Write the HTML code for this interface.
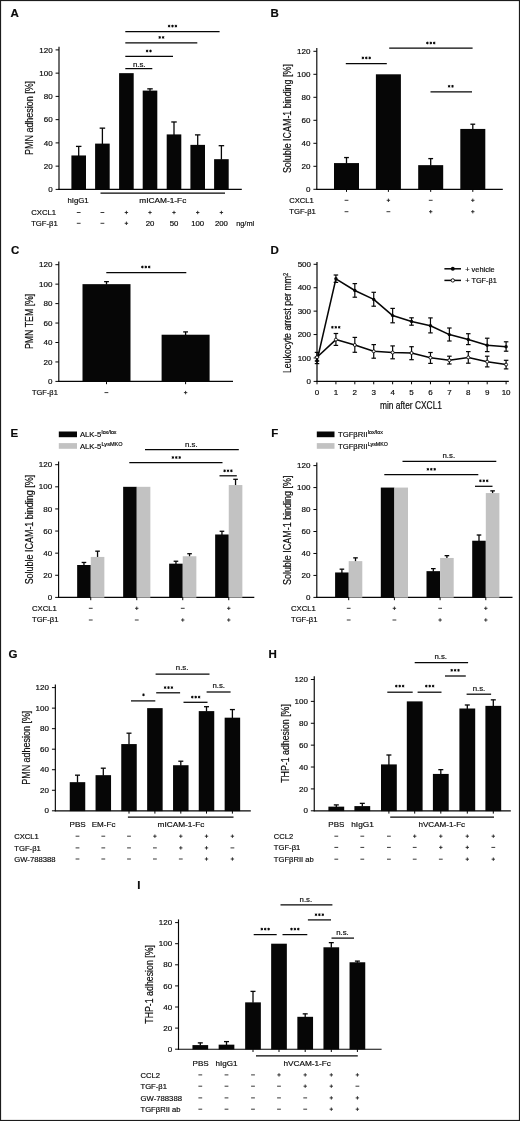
<!DOCTYPE html>
<html><head><meta charset="utf-8"><title>Figure</title>
<style>html,body{margin:0;padding:0;background:#fff}svg{display:block;will-change:transform;filter:blur(0.35px)}text{font-family:"Liberation Sans",sans-serif;fill:#0a0a0a;stroke:#0a0a0a;stroke-width:0.18px}</style>
</head><body>
<svg width="520" height="1121" viewBox="0 0 520 1121">
<rect x="0" y="0" width="520" height="1121" fill="#fff"/>
<text x="10.60" y="17.30" font-size="11.5" font-weight="bold">A</text>
<line x1="59.00" y1="46.70" x2="59.00" y2="189.95" stroke="#060606" stroke-width="1.15"/>
<line x1="55.60" y1="189.40" x2="59.00" y2="189.40" stroke="#060606" stroke-width="1.0"/>
<text x="52.60" y="192.05" font-size="8.0" text-anchor="end">0</text>
<line x1="55.60" y1="166.15" x2="59.00" y2="166.15" stroke="#060606" stroke-width="1.0"/>
<text x="52.60" y="168.80" font-size="8.0" text-anchor="end">20</text>
<line x1="55.60" y1="142.90" x2="59.00" y2="142.90" stroke="#060606" stroke-width="1.0"/>
<text x="52.60" y="145.55" font-size="8.0" text-anchor="end">40</text>
<line x1="55.60" y1="119.65" x2="59.00" y2="119.65" stroke="#060606" stroke-width="1.0"/>
<text x="52.60" y="122.30" font-size="8.0" text-anchor="end">60</text>
<line x1="55.60" y1="96.40" x2="59.00" y2="96.40" stroke="#060606" stroke-width="1.0"/>
<text x="52.60" y="99.05" font-size="8.0" text-anchor="end">80</text>
<line x1="55.60" y1="73.15" x2="59.00" y2="73.15" stroke="#060606" stroke-width="1.0"/>
<text x="52.60" y="75.80" font-size="8.0" text-anchor="end">100</text>
<line x1="55.60" y1="49.90" x2="59.00" y2="49.90" stroke="#060606" stroke-width="1.0"/>
<text x="52.60" y="52.55" font-size="8.0" text-anchor="end">120</text>
<line x1="58.45" y1="189.40" x2="241.80" y2="189.40" stroke="#060606" stroke-width="1.15"/>
<text transform="translate(32.80,117.90) rotate(-90)" font-size="10" text-anchor="middle" textLength="74.00" lengthAdjust="spacingAndGlyphs">PMN adhesion [%]</text>
<line x1="78.70" y1="146.39" x2="78.70" y2="155.96" stroke="#060606" stroke-width="1.3"/>
<line x1="75.95" y1="146.39" x2="81.45" y2="146.39" stroke="#060606" stroke-width="1.3"/>
<rect x="71.40" y="155.46" width="14.60" height="34.25" fill="#060606"/>
<line x1="102.40" y1="128.14" x2="102.40" y2="144.10" stroke="#060606" stroke-width="1.3"/>
<line x1="99.65" y1="128.14" x2="105.15" y2="128.14" stroke="#060606" stroke-width="1.3"/>
<rect x="95.10" y="143.60" width="14.60" height="46.10" fill="#060606"/>
<rect x="119.10" y="73.15" width="14.60" height="116.55" fill="#060606"/>
<line x1="150.00" y1="88.84" x2="150.00" y2="91.09" stroke="#060606" stroke-width="1.3"/>
<line x1="147.25" y1="88.84" x2="152.75" y2="88.84" stroke="#060606" stroke-width="1.3"/>
<rect x="142.70" y="90.59" width="14.60" height="99.11" fill="#060606"/>
<line x1="174.00" y1="121.97" x2="174.00" y2="134.91" stroke="#060606" stroke-width="1.3"/>
<line x1="171.25" y1="121.97" x2="176.75" y2="121.97" stroke="#060606" stroke-width="1.3"/>
<rect x="166.70" y="134.41" width="14.60" height="55.29" fill="#060606"/>
<line x1="197.70" y1="134.88" x2="197.70" y2="145.38" stroke="#060606" stroke-width="1.3"/>
<line x1="194.95" y1="134.88" x2="200.45" y2="134.88" stroke="#060606" stroke-width="1.3"/>
<rect x="190.40" y="144.88" width="14.60" height="44.82" fill="#060606"/>
<line x1="221.40" y1="145.69" x2="221.40" y2="159.68" stroke="#060606" stroke-width="1.3"/>
<line x1="218.65" y1="145.69" x2="224.15" y2="145.69" stroke="#060606" stroke-width="1.3"/>
<rect x="214.10" y="159.18" width="14.60" height="30.53" fill="#060606"/>
<line x1="125.30" y1="31.50" x2="219.60" y2="31.50" stroke="#060606" stroke-width="1.25"/>
<path d="M169.10,24.75L169.10,27.45M167.93,25.43L170.27,26.78M170.27,25.43L167.93,26.78" stroke="#060606" stroke-width="0.85" fill="none"/>
<circle cx="169.10" cy="26.10" r="0.75" fill="#060606"/>
<path d="M172.50,24.75L172.50,27.45M171.33,25.43L173.67,26.78M173.67,25.43L171.33,26.78" stroke="#060606" stroke-width="0.85" fill="none"/>
<circle cx="172.50" cy="26.10" r="0.75" fill="#060606"/>
<path d="M175.90,24.75L175.90,27.45M174.73,25.43L177.07,26.78M177.07,25.43L174.73,26.78" stroke="#060606" stroke-width="0.85" fill="none"/>
<circle cx="175.90" cy="26.10" r="0.75" fill="#060606"/>
<line x1="125.30" y1="42.80" x2="197.30" y2="42.80" stroke="#060606" stroke-width="1.25"/>
<path d="M159.70,36.05L159.70,38.75M158.53,36.73L160.87,38.07M160.87,36.73L158.53,38.07" stroke="#060606" stroke-width="0.85" fill="none"/>
<circle cx="159.70" cy="37.40" r="0.75" fill="#060606"/>
<path d="M163.10,36.05L163.10,38.75M161.93,36.73L164.27,38.07M164.27,36.73L161.93,38.07" stroke="#060606" stroke-width="0.85" fill="none"/>
<circle cx="163.10" cy="37.40" r="0.75" fill="#060606"/>
<line x1="125.30" y1="56.30" x2="173.00" y2="56.30" stroke="#060606" stroke-width="1.25"/>
<path d="M147.10,49.65L147.10,52.35M145.93,50.33L148.27,51.67M148.27,50.33L145.93,51.67" stroke="#060606" stroke-width="0.85" fill="none"/>
<circle cx="147.10" cy="51.00" r="0.75" fill="#060606"/>
<path d="M150.50,49.65L150.50,52.35M149.33,50.33L151.67,51.67M151.67,50.33L149.33,51.67" stroke="#060606" stroke-width="0.85" fill="none"/>
<circle cx="150.50" cy="51.00" r="0.75" fill="#060606"/>
<line x1="125.30" y1="68.60" x2="152.30" y2="68.60" stroke="#060606" stroke-width="1.25"/>
<text x="139.20" y="66.60" font-size="7.8" text-anchor="middle">n.s.</text>
<text x="78.00" y="203.30" font-size="7.8" text-anchor="middle">hIgG1</text>
<line x1="100.50" y1="193.20" x2="225.00" y2="193.20" stroke="#060606" stroke-width="1.25"/>
<text x="162.80" y="203.30" font-size="7.8" text-anchor="middle" textLength="47.00" lengthAdjust="spacingAndGlyphs">mICAM-1-Fc</text>
<text x="31.20" y="215.30" font-size="7.8" textLength="25.00" lengthAdjust="spacingAndGlyphs">CXCL1</text>
<text x="31.20" y="226.10" font-size="7.8" textLength="26.50" lengthAdjust="spacingAndGlyphs">TGF-β1</text>
<line x1="76.80" y1="212.50" x2="80.60" y2="212.50" stroke="#222" stroke-width="0.9"/>
<line x1="76.80" y1="223.30" x2="80.60" y2="223.30" stroke="#222" stroke-width="0.9"/>
<line x1="100.50" y1="212.50" x2="104.30" y2="212.50" stroke="#222" stroke-width="0.9"/>
<line x1="100.50" y1="223.30" x2="104.30" y2="223.30" stroke="#222" stroke-width="0.9"/>
<line x1="124.70" y1="212.50" x2="128.10" y2="212.50" stroke="#222" stroke-width="0.9"/>
<line x1="126.40" y1="210.80" x2="126.40" y2="214.20" stroke="#222" stroke-width="0.9"/>
<line x1="124.70" y1="223.30" x2="128.10" y2="223.30" stroke="#222" stroke-width="0.9"/>
<line x1="126.40" y1="221.60" x2="126.40" y2="225.00" stroke="#222" stroke-width="0.9"/>
<line x1="148.30" y1="212.50" x2="151.70" y2="212.50" stroke="#222" stroke-width="0.9"/>
<line x1="150.00" y1="210.80" x2="150.00" y2="214.20" stroke="#222" stroke-width="0.9"/>
<text x="150.00" y="226.10" font-size="7.8" text-anchor="middle">20</text>
<line x1="172.30" y1="212.50" x2="175.70" y2="212.50" stroke="#222" stroke-width="0.9"/>
<line x1="174.00" y1="210.80" x2="174.00" y2="214.20" stroke="#222" stroke-width="0.9"/>
<text x="174.00" y="226.10" font-size="7.8" text-anchor="middle">50</text>
<line x1="196.00" y1="212.50" x2="199.40" y2="212.50" stroke="#222" stroke-width="0.9"/>
<line x1="197.70" y1="210.80" x2="197.70" y2="214.20" stroke="#222" stroke-width="0.9"/>
<text x="197.70" y="226.10" font-size="7.8" text-anchor="middle">100</text>
<line x1="219.70" y1="212.50" x2="223.10" y2="212.50" stroke="#222" stroke-width="0.9"/>
<line x1="221.40" y1="210.80" x2="221.40" y2="214.20" stroke="#222" stroke-width="0.9"/>
<text x="221.40" y="226.10" font-size="7.8" text-anchor="middle">200</text>
<text x="236.20" y="226.10" font-size="7.8" textLength="18.00" lengthAdjust="spacingAndGlyphs">ng/ml</text>
<text x="270.50" y="17.30" font-size="11.5" font-weight="bold">B</text>
<line x1="316.80" y1="48.10" x2="316.80" y2="189.85" stroke="#060606" stroke-width="1.15"/>
<line x1="313.40" y1="189.30" x2="316.80" y2="189.30" stroke="#060606" stroke-width="1.0"/>
<text x="310.40" y="191.95" font-size="8.0" text-anchor="end">0</text>
<line x1="313.40" y1="166.30" x2="316.80" y2="166.30" stroke="#060606" stroke-width="1.0"/>
<text x="310.40" y="168.95" font-size="8.0" text-anchor="end">20</text>
<line x1="313.40" y1="143.30" x2="316.80" y2="143.30" stroke="#060606" stroke-width="1.0"/>
<text x="310.40" y="145.95" font-size="8.0" text-anchor="end">40</text>
<line x1="313.40" y1="120.30" x2="316.80" y2="120.30" stroke="#060606" stroke-width="1.0"/>
<text x="310.40" y="122.95" font-size="8.0" text-anchor="end">60</text>
<line x1="313.40" y1="97.30" x2="316.80" y2="97.30" stroke="#060606" stroke-width="1.0"/>
<text x="310.40" y="99.95" font-size="8.0" text-anchor="end">80</text>
<line x1="313.40" y1="74.30" x2="316.80" y2="74.30" stroke="#060606" stroke-width="1.0"/>
<text x="310.40" y="76.95" font-size="8.0" text-anchor="end">100</text>
<line x1="313.40" y1="51.30" x2="316.80" y2="51.30" stroke="#060606" stroke-width="1.0"/>
<text x="310.40" y="53.95" font-size="8.0" text-anchor="end">120</text>
<line x1="316.25" y1="189.30" x2="502.80" y2="189.30" stroke="#060606" stroke-width="1.15"/>
<text transform="translate(290.90,118.60) rotate(-90)" font-size="10" text-anchor="middle" textLength="109.00" lengthAdjust="spacingAndGlyphs">Soluble ICAM-1 binding [%]</text>
<line x1="346.50" y1="157.56" x2="346.50" y2="163.58" stroke="#060606" stroke-width="1.3"/>
<line x1="344.10" y1="157.56" x2="348.90" y2="157.56" stroke="#060606" stroke-width="1.3"/>
<rect x="334.00" y="163.08" width="25.00" height="26.52" fill="#060606"/>
<line x1="346.50" y1="189.30" x2="346.50" y2="191.90" stroke="#060606" stroke-width="1.0"/>
<rect x="375.90" y="74.30" width="25.00" height="115.30" fill="#060606"/>
<line x1="388.40" y1="189.30" x2="388.40" y2="191.90" stroke="#060606" stroke-width="1.0"/>
<line x1="430.70" y1="158.60" x2="430.70" y2="165.65" stroke="#060606" stroke-width="1.3"/>
<line x1="428.30" y1="158.60" x2="433.10" y2="158.60" stroke="#060606" stroke-width="1.3"/>
<rect x="418.20" y="165.15" width="25.00" height="24.45" fill="#060606"/>
<line x1="430.70" y1="189.30" x2="430.70" y2="191.90" stroke="#060606" stroke-width="1.0"/>
<line x1="472.80" y1="124.21" x2="472.80" y2="129.43" stroke="#060606" stroke-width="1.3"/>
<line x1="470.40" y1="124.21" x2="475.20" y2="124.21" stroke="#060606" stroke-width="1.3"/>
<rect x="460.30" y="128.93" width="25.00" height="60.68" fill="#060606"/>
<line x1="472.80" y1="189.30" x2="472.80" y2="191.90" stroke="#060606" stroke-width="1.0"/>
<line x1="345.80" y1="63.50" x2="386.80" y2="63.50" stroke="#060606" stroke-width="1.25"/>
<path d="M362.90,56.55L362.90,59.25M361.73,57.23L364.07,58.57M364.07,57.23L361.73,58.57" stroke="#060606" stroke-width="0.85" fill="none"/>
<circle cx="362.90" cy="57.90" r="0.75" fill="#060606"/>
<path d="M366.30,56.55L366.30,59.25M365.13,57.23L367.47,58.57M367.47,57.23L365.13,58.57" stroke="#060606" stroke-width="0.85" fill="none"/>
<circle cx="366.30" cy="57.90" r="0.75" fill="#060606"/>
<path d="M369.70,56.55L369.70,59.25M368.53,57.23L370.87,58.57M370.87,57.23L368.53,58.57" stroke="#060606" stroke-width="0.85" fill="none"/>
<circle cx="369.70" cy="57.90" r="0.75" fill="#060606"/>
<line x1="389.20" y1="48.20" x2="472.60" y2="48.20" stroke="#060606" stroke-width="1.25"/>
<path d="M427.40,41.65L427.40,44.35M426.23,42.33L428.57,43.67M428.57,42.33L426.23,43.67" stroke="#060606" stroke-width="0.85" fill="none"/>
<circle cx="427.40" cy="43.00" r="0.75" fill="#060606"/>
<path d="M430.80,41.65L430.80,44.35M429.63,42.33L431.97,43.67M431.97,42.33L429.63,43.67" stroke="#060606" stroke-width="0.85" fill="none"/>
<circle cx="430.80" cy="43.00" r="0.75" fill="#060606"/>
<path d="M434.20,41.65L434.20,44.35M433.03,42.33L435.37,43.67M435.37,42.33L433.03,43.67" stroke="#060606" stroke-width="0.85" fill="none"/>
<circle cx="434.20" cy="43.00" r="0.75" fill="#060606"/>
<line x1="430.50" y1="91.90" x2="472.00" y2="91.90" stroke="#060606" stroke-width="1.25"/>
<path d="M449.10,84.95L449.10,87.65M447.93,85.62L450.27,86.97M450.27,85.62L447.93,86.97" stroke="#060606" stroke-width="0.85" fill="none"/>
<circle cx="449.10" cy="86.30" r="0.75" fill="#060606"/>
<path d="M452.50,84.95L452.50,87.65M451.33,85.62L453.67,86.97M453.67,85.62L451.33,86.97" stroke="#060606" stroke-width="0.85" fill="none"/>
<circle cx="452.50" cy="86.30" r="0.75" fill="#060606"/>
<text x="289.30" y="202.70" font-size="7.8" textLength="24.50" lengthAdjust="spacingAndGlyphs">CXCL1</text>
<text x="289.30" y="214.10" font-size="7.8" textLength="26.50" lengthAdjust="spacingAndGlyphs">TGF-β1</text>
<line x1="344.60" y1="200.30" x2="348.40" y2="200.30" stroke="#222" stroke-width="0.9"/>
<line x1="344.60" y1="211.70" x2="348.40" y2="211.70" stroke="#222" stroke-width="0.9"/>
<line x1="386.70" y1="200.30" x2="390.10" y2="200.30" stroke="#222" stroke-width="0.9"/>
<line x1="388.40" y1="198.60" x2="388.40" y2="202.00" stroke="#222" stroke-width="0.9"/>
<line x1="386.50" y1="211.70" x2="390.30" y2="211.70" stroke="#222" stroke-width="0.9"/>
<line x1="428.80" y1="200.30" x2="432.60" y2="200.30" stroke="#222" stroke-width="0.9"/>
<line x1="429.00" y1="211.70" x2="432.40" y2="211.70" stroke="#222" stroke-width="0.9"/>
<line x1="430.70" y1="210.00" x2="430.70" y2="213.40" stroke="#222" stroke-width="0.9"/>
<line x1="471.10" y1="200.30" x2="474.50" y2="200.30" stroke="#222" stroke-width="0.9"/>
<line x1="472.80" y1="198.60" x2="472.80" y2="202.00" stroke="#222" stroke-width="0.9"/>
<line x1="471.10" y1="211.70" x2="474.50" y2="211.70" stroke="#222" stroke-width="0.9"/>
<line x1="472.80" y1="210.00" x2="472.80" y2="213.40" stroke="#222" stroke-width="0.9"/>
<text x="11.00" y="254.20" font-size="11.5" font-weight="bold">C</text>
<line x1="58.80" y1="261.50" x2="58.80" y2="381.95" stroke="#060606" stroke-width="1.15"/>
<line x1="55.40" y1="381.40" x2="58.80" y2="381.40" stroke="#060606" stroke-width="1.0"/>
<text x="52.40" y="384.05" font-size="8.0" text-anchor="end">0</text>
<line x1="55.40" y1="361.95" x2="58.80" y2="361.95" stroke="#060606" stroke-width="1.0"/>
<text x="52.40" y="364.60" font-size="8.0" text-anchor="end">20</text>
<line x1="55.40" y1="342.50" x2="58.80" y2="342.50" stroke="#060606" stroke-width="1.0"/>
<text x="52.40" y="345.15" font-size="8.0" text-anchor="end">40</text>
<line x1="55.40" y1="323.05" x2="58.80" y2="323.05" stroke="#060606" stroke-width="1.0"/>
<text x="52.40" y="325.70" font-size="8.0" text-anchor="end">60</text>
<line x1="55.40" y1="303.60" x2="58.80" y2="303.60" stroke="#060606" stroke-width="1.0"/>
<text x="52.40" y="306.25" font-size="8.0" text-anchor="end">80</text>
<line x1="55.40" y1="284.15" x2="58.80" y2="284.15" stroke="#060606" stroke-width="1.0"/>
<text x="52.40" y="286.80" font-size="8.0" text-anchor="end">100</text>
<line x1="55.40" y1="264.70" x2="58.80" y2="264.70" stroke="#060606" stroke-width="1.0"/>
<text x="52.40" y="267.35" font-size="8.0" text-anchor="end">120</text>
<line x1="58.25" y1="381.40" x2="233.00" y2="381.40" stroke="#060606" stroke-width="1.15"/>
<text transform="translate(32.60,321.40) rotate(-90)" font-size="10" text-anchor="middle" textLength="55.40" lengthAdjust="spacingAndGlyphs">PMN TEM [%]</text>
<line x1="106.50" y1="281.62" x2="106.50" y2="284.65" stroke="#060606" stroke-width="1.3"/>
<line x1="104.10" y1="281.62" x2="108.90" y2="281.62" stroke="#060606" stroke-width="1.3"/>
<rect x="82.50" y="284.15" width="48.00" height="97.55" fill="#060606"/>
<line x1="106.50" y1="381.40" x2="106.50" y2="384.20" stroke="#060606" stroke-width="1.0"/>
<line x1="185.60" y1="331.90" x2="185.60" y2="335.22" stroke="#060606" stroke-width="1.3"/>
<line x1="183.20" y1="331.90" x2="188.00" y2="331.90" stroke="#060606" stroke-width="1.3"/>
<rect x="161.60" y="334.72" width="48.00" height="46.98" fill="#060606"/>
<line x1="185.60" y1="381.40" x2="185.60" y2="384.20" stroke="#060606" stroke-width="1.0"/>
<line x1="106.30" y1="272.50" x2="186.30" y2="272.50" stroke="#060606" stroke-width="1.25"/>
<path d="M142.40,265.65L142.40,268.35M141.23,266.32L143.57,267.68M143.57,266.32L141.23,267.68" stroke="#060606" stroke-width="0.85" fill="none"/>
<circle cx="142.40" cy="267.00" r="0.75" fill="#060606"/>
<path d="M145.80,265.65L145.80,268.35M144.63,266.32L146.97,267.68M146.97,266.32L144.63,267.68" stroke="#060606" stroke-width="0.85" fill="none"/>
<circle cx="145.80" cy="267.00" r="0.75" fill="#060606"/>
<path d="M149.20,265.65L149.20,268.35M148.03,266.32L150.37,267.68M150.37,266.32L148.03,267.68" stroke="#060606" stroke-width="0.85" fill="none"/>
<circle cx="149.20" cy="267.00" r="0.75" fill="#060606"/>
<text x="32.00" y="395.10" font-size="7.8" textLength="25.80" lengthAdjust="spacingAndGlyphs">TGF-β1</text>
<line x1="104.50" y1="392.60" x2="108.30" y2="392.60" stroke="#222" stroke-width="0.9"/>
<line x1="183.90" y1="392.60" x2="187.30" y2="392.60" stroke="#222" stroke-width="0.9"/>
<line x1="185.60" y1="390.90" x2="185.60" y2="394.30" stroke="#222" stroke-width="0.9"/>
<text x="270.50" y="254.20" font-size="11.5" font-weight="bold">D</text>
<line x1="317.00" y1="262.10" x2="317.00" y2="381.95" stroke="#060606" stroke-width="1.2"/>
<line x1="313.60" y1="381.40" x2="317.00" y2="381.40" stroke="#060606" stroke-width="1.0"/>
<text x="311.00" y="384.05" font-size="8.0" text-anchor="end">0</text>
<line x1="313.60" y1="357.98" x2="317.00" y2="357.98" stroke="#060606" stroke-width="1.0"/>
<text x="311.00" y="360.63" font-size="8.0" text-anchor="end">100</text>
<line x1="313.60" y1="334.56" x2="317.00" y2="334.56" stroke="#060606" stroke-width="1.0"/>
<text x="311.00" y="337.21" font-size="8.0" text-anchor="end">200</text>
<line x1="313.60" y1="311.14" x2="317.00" y2="311.14" stroke="#060606" stroke-width="1.0"/>
<text x="311.00" y="313.79" font-size="8.0" text-anchor="end">300</text>
<line x1="313.60" y1="287.72" x2="317.00" y2="287.72" stroke="#060606" stroke-width="1.0"/>
<text x="311.00" y="290.37" font-size="8.0" text-anchor="end">400</text>
<line x1="313.60" y1="264.30" x2="317.00" y2="264.30" stroke="#060606" stroke-width="1.0"/>
<text x="311.00" y="266.95" font-size="8.0" text-anchor="end">500</text>
<line x1="316.45" y1="381.40" x2="508.80" y2="381.40" stroke="#060606" stroke-width="1.15"/>
<line x1="317.00" y1="381.40" x2="317.00" y2="384.30" stroke="#060606" stroke-width="1.0"/>
<text x="317.00" y="395.30" font-size="8.0" text-anchor="middle">0</text>
<line x1="335.91" y1="381.40" x2="335.91" y2="384.30" stroke="#060606" stroke-width="1.0"/>
<text x="335.91" y="395.30" font-size="8.0" text-anchor="middle">1</text>
<line x1="354.82" y1="381.40" x2="354.82" y2="384.30" stroke="#060606" stroke-width="1.0"/>
<text x="354.82" y="395.30" font-size="8.0" text-anchor="middle">2</text>
<line x1="373.73" y1="381.40" x2="373.73" y2="384.30" stroke="#060606" stroke-width="1.0"/>
<text x="373.73" y="395.30" font-size="8.0" text-anchor="middle">3</text>
<line x1="392.64" y1="381.40" x2="392.64" y2="384.30" stroke="#060606" stroke-width="1.0"/>
<text x="392.64" y="395.30" font-size="8.0" text-anchor="middle">4</text>
<line x1="411.55" y1="381.40" x2="411.55" y2="384.30" stroke="#060606" stroke-width="1.0"/>
<text x="411.55" y="395.30" font-size="8.0" text-anchor="middle">5</text>
<line x1="430.46" y1="381.40" x2="430.46" y2="384.30" stroke="#060606" stroke-width="1.0"/>
<text x="430.46" y="395.30" font-size="8.0" text-anchor="middle">6</text>
<line x1="449.37" y1="381.40" x2="449.37" y2="384.30" stroke="#060606" stroke-width="1.0"/>
<text x="449.37" y="395.30" font-size="8.0" text-anchor="middle">7</text>
<line x1="468.28" y1="381.40" x2="468.28" y2="384.30" stroke="#060606" stroke-width="1.0"/>
<text x="468.28" y="395.30" font-size="8.0" text-anchor="middle">8</text>
<line x1="487.19" y1="381.40" x2="487.19" y2="384.30" stroke="#060606" stroke-width="1.0"/>
<text x="487.19" y="395.30" font-size="8.0" text-anchor="middle">9</text>
<line x1="506.10" y1="381.40" x2="506.10" y2="384.30" stroke="#060606" stroke-width="1.0"/>
<text x="506.10" y="395.30" font-size="8.0" text-anchor="middle">10</text>
<text x="411.00" y="409.20" font-size="10.3" text-anchor="middle" textLength="62.00" lengthAdjust="spacingAndGlyphs">min after CXCL1</text>
<text transform="translate(291.0,373.1) rotate(-90)" font-size="10" text-anchor="start" textLength="100.4" lengthAdjust="spacingAndGlyphs">Leukocyte arrest per mm<tspan dy="-3.2" font-size="6.5">2</tspan></text>
<polyline points="317.00,360.80 335.91,278.80 354.82,290.50 373.73,299.40 392.64,315.60 411.55,321.40 430.46,325.70 449.37,334.60 468.28,339.50 487.19,345.30 506.10,346.80" fill="none" stroke="#060606" stroke-width="1.55" stroke-linejoin="round"/>
<line x1="317.00" y1="357.00" x2="317.00" y2="363.60" stroke="#060606" stroke-width="1.2"/>
<line x1="314.75" y1="357.00" x2="319.25" y2="357.00" stroke="#060606" stroke-width="1.2"/>
<line x1="314.75" y1="363.60" x2="319.25" y2="363.60" stroke="#060606" stroke-width="1.2"/>
<line x1="335.91" y1="275.00" x2="335.91" y2="282.40" stroke="#060606" stroke-width="1.2"/>
<line x1="333.66" y1="275.00" x2="338.16" y2="275.00" stroke="#060606" stroke-width="1.2"/>
<line x1="333.66" y1="282.40" x2="338.16" y2="282.40" stroke="#060606" stroke-width="1.2"/>
<line x1="354.82" y1="283.60" x2="354.82" y2="297.20" stroke="#060606" stroke-width="1.2"/>
<line x1="352.57" y1="283.60" x2="357.07" y2="283.60" stroke="#060606" stroke-width="1.2"/>
<line x1="352.57" y1="297.20" x2="357.07" y2="297.20" stroke="#060606" stroke-width="1.2"/>
<line x1="373.73" y1="292.30" x2="373.73" y2="306.20" stroke="#060606" stroke-width="1.2"/>
<line x1="371.48" y1="292.30" x2="375.98" y2="292.30" stroke="#060606" stroke-width="1.2"/>
<line x1="371.48" y1="306.20" x2="375.98" y2="306.20" stroke="#060606" stroke-width="1.2"/>
<line x1="392.64" y1="308.40" x2="392.64" y2="322.80" stroke="#060606" stroke-width="1.2"/>
<line x1="390.39" y1="308.40" x2="394.89" y2="308.40" stroke="#060606" stroke-width="1.2"/>
<line x1="390.39" y1="322.80" x2="394.89" y2="322.80" stroke="#060606" stroke-width="1.2"/>
<line x1="411.55" y1="317.80" x2="411.55" y2="325.20" stroke="#060606" stroke-width="1.2"/>
<line x1="409.30" y1="317.80" x2="413.80" y2="317.80" stroke="#060606" stroke-width="1.2"/>
<line x1="409.30" y1="325.20" x2="413.80" y2="325.20" stroke="#060606" stroke-width="1.2"/>
<line x1="430.46" y1="317.90" x2="430.46" y2="332.90" stroke="#060606" stroke-width="1.2"/>
<line x1="428.21" y1="317.90" x2="432.71" y2="317.90" stroke="#060606" stroke-width="1.2"/>
<line x1="428.21" y1="332.90" x2="432.71" y2="332.90" stroke="#060606" stroke-width="1.2"/>
<line x1="449.37" y1="328.00" x2="449.37" y2="341.00" stroke="#060606" stroke-width="1.2"/>
<line x1="447.12" y1="328.00" x2="451.62" y2="328.00" stroke="#060606" stroke-width="1.2"/>
<line x1="447.12" y1="341.00" x2="451.62" y2="341.00" stroke="#060606" stroke-width="1.2"/>
<line x1="468.28" y1="333.70" x2="468.28" y2="344.60" stroke="#060606" stroke-width="1.2"/>
<line x1="466.03" y1="333.70" x2="470.53" y2="333.70" stroke="#060606" stroke-width="1.2"/>
<line x1="466.03" y1="344.60" x2="470.53" y2="344.60" stroke="#060606" stroke-width="1.2"/>
<line x1="487.19" y1="338.20" x2="487.19" y2="351.60" stroke="#060606" stroke-width="1.2"/>
<line x1="484.94" y1="338.20" x2="489.44" y2="338.20" stroke="#060606" stroke-width="1.2"/>
<line x1="484.94" y1="351.60" x2="489.44" y2="351.60" stroke="#060606" stroke-width="1.2"/>
<line x1="506.10" y1="341.80" x2="506.10" y2="351.20" stroke="#060606" stroke-width="1.2"/>
<line x1="503.85" y1="341.80" x2="508.35" y2="341.80" stroke="#060606" stroke-width="1.2"/>
<line x1="503.85" y1="351.20" x2="508.35" y2="351.20" stroke="#060606" stroke-width="1.2"/>
<circle cx="317.00" cy="360.80" r="1.7" fill="#060606"/>
<circle cx="335.91" cy="278.80" r="1.7" fill="#060606"/>
<circle cx="354.82" cy="290.50" r="1.7" fill="#060606"/>
<circle cx="373.73" cy="299.40" r="1.7" fill="#060606"/>
<circle cx="392.64" cy="315.60" r="1.7" fill="#060606"/>
<circle cx="411.55" cy="321.40" r="1.7" fill="#060606"/>
<circle cx="430.46" cy="325.70" r="1.7" fill="#060606"/>
<circle cx="449.37" cy="334.60" r="1.7" fill="#060606"/>
<circle cx="468.28" cy="339.50" r="1.7" fill="#060606"/>
<circle cx="487.19" cy="345.30" r="1.7" fill="#060606"/>
<circle cx="506.10" cy="346.80" r="1.7" fill="#060606"/>
<polyline points="317.00,357.20 335.91,339.60 354.82,345.00 373.73,351.30 392.64,352.50 411.55,353.00 430.46,357.70 449.37,360.30 468.28,357.40 487.19,361.70 506.10,364.60" fill="none" stroke="#060606" stroke-width="1.55" stroke-linejoin="round"/>
<line x1="317.00" y1="352.40" x2="317.00" y2="361.00" stroke="#060606" stroke-width="1.2"/>
<line x1="314.75" y1="352.40" x2="319.25" y2="352.40" stroke="#060606" stroke-width="1.2"/>
<line x1="314.75" y1="361.00" x2="319.25" y2="361.00" stroke="#060606" stroke-width="1.2"/>
<line x1="335.91" y1="333.50" x2="335.91" y2="345.40" stroke="#060606" stroke-width="1.2"/>
<line x1="333.66" y1="333.50" x2="338.16" y2="333.50" stroke="#060606" stroke-width="1.2"/>
<line x1="333.66" y1="345.40" x2="338.16" y2="345.40" stroke="#060606" stroke-width="1.2"/>
<line x1="354.82" y1="337.40" x2="354.82" y2="352.30" stroke="#060606" stroke-width="1.2"/>
<line x1="352.57" y1="337.40" x2="357.07" y2="337.40" stroke="#060606" stroke-width="1.2"/>
<line x1="352.57" y1="352.30" x2="357.07" y2="352.30" stroke="#060606" stroke-width="1.2"/>
<line x1="373.73" y1="344.60" x2="373.73" y2="358.20" stroke="#060606" stroke-width="1.2"/>
<line x1="371.48" y1="344.60" x2="375.98" y2="344.60" stroke="#060606" stroke-width="1.2"/>
<line x1="371.48" y1="358.20" x2="375.98" y2="358.20" stroke="#060606" stroke-width="1.2"/>
<line x1="392.64" y1="345.90" x2="392.64" y2="358.80" stroke="#060606" stroke-width="1.2"/>
<line x1="390.39" y1="345.90" x2="394.89" y2="345.90" stroke="#060606" stroke-width="1.2"/>
<line x1="390.39" y1="358.80" x2="394.89" y2="358.80" stroke="#060606" stroke-width="1.2"/>
<line x1="411.55" y1="346.70" x2="411.55" y2="359.70" stroke="#060606" stroke-width="1.2"/>
<line x1="409.30" y1="346.70" x2="413.80" y2="346.70" stroke="#060606" stroke-width="1.2"/>
<line x1="409.30" y1="359.70" x2="413.80" y2="359.70" stroke="#060606" stroke-width="1.2"/>
<line x1="430.46" y1="352.50" x2="430.46" y2="363.40" stroke="#060606" stroke-width="1.2"/>
<line x1="428.21" y1="352.50" x2="432.71" y2="352.50" stroke="#060606" stroke-width="1.2"/>
<line x1="428.21" y1="363.40" x2="432.71" y2="363.40" stroke="#060606" stroke-width="1.2"/>
<line x1="449.37" y1="356.20" x2="449.37" y2="364.00" stroke="#060606" stroke-width="1.2"/>
<line x1="447.12" y1="356.20" x2="451.62" y2="356.20" stroke="#060606" stroke-width="1.2"/>
<line x1="447.12" y1="364.00" x2="451.62" y2="364.00" stroke="#060606" stroke-width="1.2"/>
<line x1="468.28" y1="351.60" x2="468.28" y2="363.20" stroke="#060606" stroke-width="1.2"/>
<line x1="466.03" y1="351.60" x2="470.53" y2="351.60" stroke="#060606" stroke-width="1.2"/>
<line x1="466.03" y1="363.20" x2="470.53" y2="363.20" stroke="#060606" stroke-width="1.2"/>
<line x1="487.19" y1="356.20" x2="487.19" y2="366.90" stroke="#060606" stroke-width="1.2"/>
<line x1="484.94" y1="356.20" x2="489.44" y2="356.20" stroke="#060606" stroke-width="1.2"/>
<line x1="484.94" y1="366.90" x2="489.44" y2="366.90" stroke="#060606" stroke-width="1.2"/>
<line x1="506.10" y1="360.30" x2="506.10" y2="368.90" stroke="#060606" stroke-width="1.2"/>
<line x1="503.85" y1="360.30" x2="508.35" y2="360.30" stroke="#060606" stroke-width="1.2"/>
<line x1="503.85" y1="368.90" x2="508.35" y2="368.90" stroke="#060606" stroke-width="1.2"/>
<circle cx="317.00" cy="357.20" r="1.5" fill="#fff" stroke="#060606" stroke-width="0.9"/>
<circle cx="335.91" cy="339.60" r="1.5" fill="#fff" stroke="#060606" stroke-width="0.9"/>
<circle cx="354.82" cy="345.00" r="1.5" fill="#fff" stroke="#060606" stroke-width="0.9"/>
<circle cx="373.73" cy="351.30" r="1.5" fill="#fff" stroke="#060606" stroke-width="0.9"/>
<circle cx="392.64" cy="352.50" r="1.5" fill="#fff" stroke="#060606" stroke-width="0.9"/>
<circle cx="411.55" cy="353.00" r="1.5" fill="#fff" stroke="#060606" stroke-width="0.9"/>
<circle cx="430.46" cy="357.70" r="1.5" fill="#fff" stroke="#060606" stroke-width="0.9"/>
<circle cx="449.37" cy="360.30" r="1.5" fill="#fff" stroke="#060606" stroke-width="0.9"/>
<circle cx="468.28" cy="357.40" r="1.5" fill="#fff" stroke="#060606" stroke-width="0.9"/>
<circle cx="487.19" cy="361.70" r="1.5" fill="#fff" stroke="#060606" stroke-width="0.9"/>
<circle cx="506.10" cy="364.60" r="1.5" fill="#fff" stroke="#060606" stroke-width="0.9"/>
<path d="M332.40,325.95L332.40,328.65M331.23,326.62L333.57,327.98M333.57,326.62L331.23,327.98" stroke="#060606" stroke-width="0.85" fill="none"/>
<circle cx="332.40" cy="327.30" r="0.75" fill="#060606"/>
<path d="M335.80,325.95L335.80,328.65M334.63,326.62L336.97,327.98M336.97,326.62L334.63,327.98" stroke="#060606" stroke-width="0.85" fill="none"/>
<circle cx="335.80" cy="327.30" r="0.75" fill="#060606"/>
<path d="M339.20,325.95L339.20,328.65M338.03,326.62L340.37,327.98M340.37,326.62L338.03,327.98" stroke="#060606" stroke-width="0.85" fill="none"/>
<circle cx="339.20" cy="327.30" r="0.75" fill="#060606"/>
<line x1="444.40" y1="268.80" x2="461.00" y2="268.80" stroke="#060606" stroke-width="1.5"/>
<circle cx="452.8" cy="268.8" r="1.95" fill="#060606"/>
<line x1="444.40" y1="280.40" x2="461.00" y2="280.40" stroke="#060606" stroke-width="1.5"/>
<circle cx="452.8" cy="280.4" r="1.7" fill="#fff" stroke="#060606" stroke-width="0.9"/>
<text x="465.20" y="271.50" font-size="7.8" textLength="29.50" lengthAdjust="spacingAndGlyphs">+ vehicle</text>
<text x="465.20" y="283.10" font-size="7.8" textLength="31.70" lengthAdjust="spacingAndGlyphs">+ TGF-β1</text>
<text x="10.60" y="437.30" font-size="11.5" font-weight="bold">E</text>
<line x1="58.60" y1="461.50" x2="58.60" y2="597.95" stroke="#060606" stroke-width="1.15"/>
<line x1="55.20" y1="597.40" x2="58.60" y2="597.40" stroke="#060606" stroke-width="1.0"/>
<text x="52.20" y="600.05" font-size="8.0" text-anchor="end">0</text>
<line x1="55.20" y1="575.28" x2="58.60" y2="575.28" stroke="#060606" stroke-width="1.0"/>
<text x="52.20" y="577.93" font-size="8.0" text-anchor="end">20</text>
<line x1="55.20" y1="553.17" x2="58.60" y2="553.17" stroke="#060606" stroke-width="1.0"/>
<text x="52.20" y="555.82" font-size="8.0" text-anchor="end">40</text>
<line x1="55.20" y1="531.05" x2="58.60" y2="531.05" stroke="#060606" stroke-width="1.0"/>
<text x="52.20" y="533.70" font-size="8.0" text-anchor="end">60</text>
<line x1="55.20" y1="508.93" x2="58.60" y2="508.93" stroke="#060606" stroke-width="1.0"/>
<text x="52.20" y="511.58" font-size="8.0" text-anchor="end">80</text>
<line x1="55.20" y1="486.82" x2="58.60" y2="486.82" stroke="#060606" stroke-width="1.0"/>
<text x="52.20" y="489.47" font-size="8.0" text-anchor="end">100</text>
<line x1="55.20" y1="464.70" x2="58.60" y2="464.70" stroke="#060606" stroke-width="1.0"/>
<text x="52.20" y="467.35" font-size="8.0" text-anchor="end">120</text>
<line x1="58.05" y1="597.40" x2="254.30" y2="597.40" stroke="#060606" stroke-width="1.15"/>
<text transform="translate(32.90,529.60) rotate(-90)" font-size="10" text-anchor="middle" textLength="109.50" lengthAdjust="spacingAndGlyphs">Soluble ICAM-1 binding [%]</text>
<rect x="58.80" y="431.50" width="18.20" height="5.70" fill="#060606"/>
<rect x="58.80" y="443.10" width="18.20" height="5.70" fill="#c2c2c2"/>
<text x="80.00" y="437.10" font-size="7.8" textLength="21.30" lengthAdjust="spacingAndGlyphs">ALK-5</text>
<text x="101.50" y="434.10" font-size="5.2" textLength="15.00" lengthAdjust="spacingAndGlyphs" stroke-width="0.05">lox/lox</text>
<text x="80.00" y="448.60" font-size="7.8" textLength="21.30" lengthAdjust="spacingAndGlyphs">ALK-5</text>
<text x="101.50" y="445.60" font-size="5.2" textLength="21.00" lengthAdjust="spacingAndGlyphs" stroke-width="0.05">LysMKO</text>
<line x1="83.95" y1="562.46" x2="83.95" y2="565.50" stroke="#060606" stroke-width="1.3"/>
<line x1="81.65" y1="562.46" x2="86.25" y2="562.46" stroke="#060606" stroke-width="1.3"/>
<line x1="97.55" y1="551.18" x2="97.55" y2="557.43" stroke="#060606" stroke-width="1.3"/>
<line x1="95.25" y1="551.18" x2="99.85" y2="551.18" stroke="#060606" stroke-width="1.3"/>
<rect x="77.15" y="565.00" width="13.60" height="32.70" fill="#060606"/>
<rect x="90.75" y="556.93" width="13.60" height="40.77" fill="#c2c2c2"/>
<line x1="90.75" y1="597.40" x2="90.75" y2="600.20" stroke="#060606" stroke-width="1.0"/>
<rect x="123.15" y="486.82" width="13.60" height="110.88" fill="#060606"/>
<rect x="136.75" y="486.82" width="13.60" height="110.88" fill="#c2c2c2"/>
<line x1="136.75" y1="597.40" x2="136.75" y2="600.20" stroke="#060606" stroke-width="1.0"/>
<line x1="175.95" y1="561.24" x2="175.95" y2="564.17" stroke="#060606" stroke-width="1.3"/>
<line x1="173.65" y1="561.24" x2="178.25" y2="561.24" stroke="#060606" stroke-width="1.3"/>
<line x1="189.55" y1="553.72" x2="189.55" y2="556.76" stroke="#060606" stroke-width="1.3"/>
<line x1="187.25" y1="553.72" x2="191.85" y2="553.72" stroke="#060606" stroke-width="1.3"/>
<rect x="169.15" y="563.67" width="13.60" height="34.03" fill="#060606"/>
<rect x="182.75" y="556.26" width="13.60" height="41.44" fill="#c2c2c2"/>
<line x1="182.75" y1="597.40" x2="182.75" y2="600.20" stroke="#060606" stroke-width="1.0"/>
<line x1="221.95" y1="531.27" x2="221.95" y2="534.98" stroke="#060606" stroke-width="1.3"/>
<line x1="219.65" y1="531.27" x2="224.25" y2="531.27" stroke="#060606" stroke-width="1.3"/>
<line x1="235.55" y1="479.30" x2="235.55" y2="485.55" stroke="#060606" stroke-width="1.3"/>
<line x1="233.25" y1="479.30" x2="237.85" y2="479.30" stroke="#060606" stroke-width="1.3"/>
<rect x="215.15" y="534.48" width="13.60" height="63.22" fill="#060606"/>
<rect x="228.75" y="485.05" width="13.60" height="112.65" fill="#c2c2c2"/>
<line x1="228.75" y1="597.40" x2="228.75" y2="600.20" stroke="#060606" stroke-width="1.0"/>
<line x1="145.00" y1="449.50" x2="238.80" y2="449.50" stroke="#060606" stroke-width="1.25"/>
<text x="191.30" y="446.65" font-size="7.8" text-anchor="middle">n.s.</text>
<line x1="129.30" y1="462.70" x2="222.50" y2="462.70" stroke="#060606" stroke-width="1.25"/>
<path d="M172.90,456.15L172.90,458.85M171.73,456.82L174.07,458.18M174.07,456.82L171.73,458.18" stroke="#060606" stroke-width="0.85" fill="none"/>
<circle cx="172.90" cy="457.50" r="0.75" fill="#060606"/>
<path d="M176.30,456.15L176.30,458.85M175.13,456.82L177.47,458.18M177.47,456.82L175.13,458.18" stroke="#060606" stroke-width="0.85" fill="none"/>
<circle cx="176.30" cy="457.50" r="0.75" fill="#060606"/>
<path d="M179.70,456.15L179.70,458.85M178.53,456.82L180.87,458.18M180.87,456.82L178.53,458.18" stroke="#060606" stroke-width="0.85" fill="none"/>
<circle cx="179.70" cy="457.50" r="0.75" fill="#060606"/>
<line x1="219.50" y1="475.80" x2="236.80" y2="475.80" stroke="#060606" stroke-width="1.25"/>
<path d="M224.60,469.45L224.60,472.15M223.43,470.12L225.77,471.48M225.77,470.12L223.43,471.48" stroke="#060606" stroke-width="0.85" fill="none"/>
<circle cx="224.60" cy="470.80" r="0.75" fill="#060606"/>
<path d="M228.00,469.45L228.00,472.15M226.83,470.12L229.17,471.48M229.17,470.12L226.83,471.48" stroke="#060606" stroke-width="0.85" fill="none"/>
<circle cx="228.00" cy="470.80" r="0.75" fill="#060606"/>
<path d="M231.40,469.45L231.40,472.15M230.23,470.12L232.57,471.48M232.57,470.12L230.23,471.48" stroke="#060606" stroke-width="0.85" fill="none"/>
<circle cx="231.40" cy="470.80" r="0.75" fill="#060606"/>
<text x="32.00" y="610.80" font-size="7.8" textLength="24.70" lengthAdjust="spacingAndGlyphs">CXCL1</text>
<text x="32.00" y="622.40" font-size="7.8" textLength="26.50" lengthAdjust="spacingAndGlyphs">TGF-β1</text>
<line x1="88.85" y1="608.30" x2="92.65" y2="608.30" stroke="#222" stroke-width="0.9"/>
<line x1="88.85" y1="620.00" x2="92.65" y2="620.00" stroke="#222" stroke-width="0.9"/>
<line x1="135.05" y1="608.30" x2="138.45" y2="608.30" stroke="#222" stroke-width="0.9"/>
<line x1="136.75" y1="606.60" x2="136.75" y2="610.00" stroke="#222" stroke-width="0.9"/>
<line x1="134.85" y1="620.00" x2="138.65" y2="620.00" stroke="#222" stroke-width="0.9"/>
<line x1="180.85" y1="608.30" x2="184.65" y2="608.30" stroke="#222" stroke-width="0.9"/>
<line x1="181.05" y1="620.00" x2="184.45" y2="620.00" stroke="#222" stroke-width="0.9"/>
<line x1="182.75" y1="618.30" x2="182.75" y2="621.70" stroke="#222" stroke-width="0.9"/>
<line x1="227.05" y1="608.30" x2="230.45" y2="608.30" stroke="#222" stroke-width="0.9"/>
<line x1="228.75" y1="606.60" x2="228.75" y2="610.00" stroke="#222" stroke-width="0.9"/>
<line x1="227.05" y1="620.00" x2="230.45" y2="620.00" stroke="#222" stroke-width="0.9"/>
<line x1="228.75" y1="618.30" x2="228.75" y2="621.70" stroke="#222" stroke-width="0.9"/>
<text x="271.30" y="437.30" font-size="11.5" font-weight="bold">F</text>
<line x1="316.80" y1="462.40" x2="316.80" y2="597.95" stroke="#060606" stroke-width="1.15"/>
<line x1="313.40" y1="597.40" x2="316.80" y2="597.40" stroke="#060606" stroke-width="1.0"/>
<text x="310.40" y="600.05" font-size="8.0" text-anchor="end">0</text>
<line x1="313.40" y1="575.43" x2="316.80" y2="575.43" stroke="#060606" stroke-width="1.0"/>
<text x="310.40" y="578.08" font-size="8.0" text-anchor="end">20</text>
<line x1="313.40" y1="553.47" x2="316.80" y2="553.47" stroke="#060606" stroke-width="1.0"/>
<text x="310.40" y="556.12" font-size="8.0" text-anchor="end">40</text>
<line x1="313.40" y1="531.50" x2="316.80" y2="531.50" stroke="#060606" stroke-width="1.0"/>
<text x="310.40" y="534.15" font-size="8.0" text-anchor="end">60</text>
<line x1="313.40" y1="509.53" x2="316.80" y2="509.53" stroke="#060606" stroke-width="1.0"/>
<text x="310.40" y="512.18" font-size="8.0" text-anchor="end">80</text>
<line x1="313.40" y1="487.57" x2="316.80" y2="487.57" stroke="#060606" stroke-width="1.0"/>
<text x="310.40" y="490.22" font-size="8.0" text-anchor="end">100</text>
<line x1="313.40" y1="465.60" x2="316.80" y2="465.60" stroke="#060606" stroke-width="1.0"/>
<text x="310.40" y="468.25" font-size="8.0" text-anchor="end">120</text>
<line x1="316.25" y1="597.40" x2="512.50" y2="597.40" stroke="#060606" stroke-width="1.15"/>
<text transform="translate(291.10,530.30) rotate(-90)" font-size="10" text-anchor="middle" textLength="109.50" lengthAdjust="spacingAndGlyphs">Soluble ICAM-1 binding [%]</text>
<rect x="316.80" y="431.50" width="17.70" height="5.70" fill="#060606"/>
<rect x="316.80" y="443.10" width="17.70" height="5.70" fill="#c2c2c2"/>
<text x="338.00" y="437.10" font-size="7.8" textLength="29.60" lengthAdjust="spacingAndGlyphs">TGFβRII</text>
<text x="367.80" y="434.10" font-size="5.2" textLength="15.00" lengthAdjust="spacingAndGlyphs" stroke-width="0.05">lox/lox</text>
<text x="338.00" y="448.60" font-size="7.8" textLength="29.60" lengthAdjust="spacingAndGlyphs">TGFβRII</text>
<text x="367.80" y="445.60" font-size="5.2" textLength="20.00" lengthAdjust="spacingAndGlyphs" stroke-width="0.05">LysMKO</text>
<line x1="341.90" y1="569.17" x2="341.90" y2="572.97" stroke="#060606" stroke-width="1.3"/>
<line x1="339.60" y1="569.17" x2="344.20" y2="569.17" stroke="#060606" stroke-width="1.3"/>
<line x1="355.50" y1="557.86" x2="355.50" y2="561.65" stroke="#060606" stroke-width="1.3"/>
<line x1="353.20" y1="557.86" x2="357.80" y2="557.86" stroke="#060606" stroke-width="1.3"/>
<rect x="335.10" y="572.47" width="13.60" height="25.23" fill="#060606"/>
<rect x="348.70" y="561.15" width="13.60" height="36.54" fill="#c2c2c2"/>
<line x1="348.70" y1="597.40" x2="348.70" y2="600.20" stroke="#060606" stroke-width="1.0"/>
<rect x="380.80" y="487.57" width="13.60" height="110.13" fill="#060606"/>
<rect x="394.40" y="487.57" width="13.60" height="110.13" fill="#c2c2c2"/>
<line x1="394.40" y1="597.40" x2="394.40" y2="600.20" stroke="#060606" stroke-width="1.0"/>
<line x1="433.30" y1="568.62" x2="433.30" y2="571.65" stroke="#060606" stroke-width="1.3"/>
<line x1="431.00" y1="568.62" x2="435.60" y2="568.62" stroke="#060606" stroke-width="1.3"/>
<line x1="446.90" y1="555.66" x2="446.90" y2="558.47" stroke="#060606" stroke-width="1.3"/>
<line x1="444.60" y1="555.66" x2="449.20" y2="555.66" stroke="#060606" stroke-width="1.3"/>
<rect x="426.50" y="571.15" width="13.60" height="26.55" fill="#060606"/>
<rect x="440.10" y="557.97" width="13.60" height="39.73" fill="#c2c2c2"/>
<line x1="440.10" y1="597.40" x2="440.10" y2="600.20" stroke="#060606" stroke-width="1.0"/>
<line x1="479.00" y1="535.01" x2="479.00" y2="541.23" stroke="#060606" stroke-width="1.3"/>
<line x1="476.70" y1="535.01" x2="481.30" y2="535.01" stroke="#060606" stroke-width="1.3"/>
<line x1="492.60" y1="490.86" x2="492.60" y2="493.56" stroke="#060606" stroke-width="1.3"/>
<line x1="490.30" y1="490.86" x2="494.90" y2="490.86" stroke="#060606" stroke-width="1.3"/>
<rect x="472.20" y="540.73" width="13.60" height="56.97" fill="#060606"/>
<rect x="485.80" y="493.06" width="13.60" height="104.64" fill="#c2c2c2"/>
<line x1="485.80" y1="597.40" x2="485.80" y2="600.20" stroke="#060606" stroke-width="1.0"/>
<line x1="402.50" y1="461.30" x2="496.30" y2="461.30" stroke="#060606" stroke-width="1.25"/>
<text x="448.80" y="458.15" font-size="7.8" text-anchor="middle">n.s.</text>
<line x1="384.30" y1="474.60" x2="478.30" y2="474.60" stroke="#060606" stroke-width="1.25"/>
<path d="M427.90,467.95L427.90,470.65M426.73,468.62L429.07,469.98M429.07,468.62L426.73,469.98" stroke="#060606" stroke-width="0.85" fill="none"/>
<circle cx="427.90" cy="469.30" r="0.75" fill="#060606"/>
<path d="M431.30,467.95L431.30,470.65M430.13,468.62L432.47,469.98M432.47,468.62L430.13,469.98" stroke="#060606" stroke-width="0.85" fill="none"/>
<circle cx="431.30" cy="469.30" r="0.75" fill="#060606"/>
<path d="M434.70,467.95L434.70,470.65M433.53,468.62L435.87,469.98M435.87,468.62L433.53,469.98" stroke="#060606" stroke-width="0.85" fill="none"/>
<circle cx="434.70" cy="469.30" r="0.75" fill="#060606"/>
<line x1="475.00" y1="486.30" x2="492.50" y2="486.30" stroke="#060606" stroke-width="1.25"/>
<path d="M480.40,479.45L480.40,482.15M479.23,480.12L481.57,481.48M481.57,480.12L479.23,481.48" stroke="#060606" stroke-width="0.85" fill="none"/>
<circle cx="480.40" cy="480.80" r="0.75" fill="#060606"/>
<path d="M483.80,479.45L483.80,482.15M482.63,480.12L484.97,481.48M484.97,480.12L482.63,481.48" stroke="#060606" stroke-width="0.85" fill="none"/>
<circle cx="483.80" cy="480.80" r="0.75" fill="#060606"/>
<path d="M487.20,479.45L487.20,482.15M486.03,480.12L488.37,481.48M488.37,480.12L486.03,481.48" stroke="#060606" stroke-width="0.85" fill="none"/>
<circle cx="487.20" cy="480.80" r="0.75" fill="#060606"/>
<text x="291.00" y="610.80" font-size="7.8" textLength="24.70" lengthAdjust="spacingAndGlyphs">CXCL1</text>
<text x="291.00" y="622.40" font-size="7.8" textLength="26.50" lengthAdjust="spacingAndGlyphs">TGF-β1</text>
<line x1="346.80" y1="608.30" x2="350.60" y2="608.30" stroke="#222" stroke-width="0.9"/>
<line x1="346.80" y1="620.00" x2="350.60" y2="620.00" stroke="#222" stroke-width="0.9"/>
<line x1="392.70" y1="608.30" x2="396.10" y2="608.30" stroke="#222" stroke-width="0.9"/>
<line x1="394.40" y1="606.60" x2="394.40" y2="610.00" stroke="#222" stroke-width="0.9"/>
<line x1="392.50" y1="620.00" x2="396.30" y2="620.00" stroke="#222" stroke-width="0.9"/>
<line x1="438.20" y1="608.30" x2="442.00" y2="608.30" stroke="#222" stroke-width="0.9"/>
<line x1="438.40" y1="620.00" x2="441.80" y2="620.00" stroke="#222" stroke-width="0.9"/>
<line x1="440.10" y1="618.30" x2="440.10" y2="621.70" stroke="#222" stroke-width="0.9"/>
<line x1="484.10" y1="608.30" x2="487.50" y2="608.30" stroke="#222" stroke-width="0.9"/>
<line x1="485.80" y1="606.60" x2="485.80" y2="610.00" stroke="#222" stroke-width="0.9"/>
<line x1="484.10" y1="620.00" x2="487.50" y2="620.00" stroke="#222" stroke-width="0.9"/>
<line x1="485.80" y1="618.30" x2="485.80" y2="621.70" stroke="#222" stroke-width="0.9"/>
<text x="8.60" y="658.10" font-size="11.5" font-weight="bold">G</text>
<line x1="55.35" y1="684.40" x2="55.35" y2="811.35" stroke="#060606" stroke-width="1.15"/>
<line x1="51.95" y1="810.80" x2="55.35" y2="810.80" stroke="#060606" stroke-width="1.0"/>
<text x="48.95" y="813.45" font-size="8.0" text-anchor="end">0</text>
<line x1="51.95" y1="790.27" x2="55.35" y2="790.27" stroke="#060606" stroke-width="1.0"/>
<text x="48.95" y="792.92" font-size="8.0" text-anchor="end">20</text>
<line x1="51.95" y1="769.73" x2="55.35" y2="769.73" stroke="#060606" stroke-width="1.0"/>
<text x="48.95" y="772.38" font-size="8.0" text-anchor="end">40</text>
<line x1="51.95" y1="749.20" x2="55.35" y2="749.20" stroke="#060606" stroke-width="1.0"/>
<text x="48.95" y="751.85" font-size="8.0" text-anchor="end">60</text>
<line x1="51.95" y1="728.67" x2="55.35" y2="728.67" stroke="#060606" stroke-width="1.0"/>
<text x="48.95" y="731.32" font-size="8.0" text-anchor="end">80</text>
<line x1="51.95" y1="708.13" x2="55.35" y2="708.13" stroke="#060606" stroke-width="1.0"/>
<text x="48.95" y="710.78" font-size="8.0" text-anchor="end">100</text>
<line x1="51.95" y1="687.60" x2="55.35" y2="687.60" stroke="#060606" stroke-width="1.0"/>
<text x="48.95" y="690.25" font-size="8.0" text-anchor="end">120</text>
<line x1="54.80" y1="810.80" x2="250.80" y2="810.80" stroke="#060606" stroke-width="1.15"/>
<text transform="translate(30.25,747.70) rotate(-90)" font-size="10" text-anchor="middle" textLength="74.10" lengthAdjust="spacingAndGlyphs">PMN adhesion [%]</text>
<line x1="77.50" y1="775.17" x2="77.50" y2="782.66" stroke="#060606" stroke-width="1.3"/>
<line x1="75.00" y1="775.17" x2="80.00" y2="775.17" stroke="#060606" stroke-width="1.3"/>
<rect x="69.75" y="782.16" width="15.50" height="28.94" fill="#060606"/>
<line x1="103.30" y1="768.19" x2="103.30" y2="775.67" stroke="#060606" stroke-width="1.3"/>
<line x1="100.80" y1="768.19" x2="105.80" y2="768.19" stroke="#060606" stroke-width="1.3"/>
<rect x="95.55" y="775.17" width="15.50" height="35.93" fill="#060606"/>
<line x1="129.00" y1="733.18" x2="129.00" y2="744.57" stroke="#060606" stroke-width="1.3"/>
<line x1="126.50" y1="733.18" x2="131.50" y2="733.18" stroke="#060606" stroke-width="1.3"/>
<rect x="121.25" y="744.07" width="15.50" height="67.03" fill="#060606"/>
<line x1="129.00" y1="810.80" x2="129.00" y2="813.60" stroke="#060606" stroke-width="1.0"/>
<rect x="147.15" y="708.13" width="15.50" height="102.97" fill="#060606"/>
<line x1="154.90" y1="810.80" x2="154.90" y2="813.60" stroke="#060606" stroke-width="1.0"/>
<line x1="180.80" y1="761.21" x2="180.80" y2="765.72" stroke="#060606" stroke-width="1.3"/>
<line x1="178.30" y1="761.21" x2="183.30" y2="761.21" stroke="#060606" stroke-width="1.3"/>
<rect x="173.05" y="765.22" width="15.50" height="45.88" fill="#060606"/>
<line x1="180.80" y1="810.80" x2="180.80" y2="813.60" stroke="#060606" stroke-width="1.0"/>
<line x1="206.50" y1="706.70" x2="206.50" y2="711.61" stroke="#060606" stroke-width="1.3"/>
<line x1="204.00" y1="706.70" x2="209.00" y2="706.70" stroke="#060606" stroke-width="1.3"/>
<rect x="198.75" y="711.11" width="15.50" height="99.99" fill="#060606"/>
<line x1="206.50" y1="810.80" x2="206.50" y2="813.60" stroke="#060606" stroke-width="1.0"/>
<line x1="232.40" y1="709.57" x2="232.40" y2="718.18" stroke="#060606" stroke-width="1.3"/>
<line x1="229.90" y1="709.57" x2="234.90" y2="709.57" stroke="#060606" stroke-width="1.3"/>
<rect x="224.65" y="717.68" width="15.50" height="93.42" fill="#060606"/>
<line x1="232.40" y1="810.80" x2="232.40" y2="813.60" stroke="#060606" stroke-width="1.0"/>
<line x1="155.60" y1="674.00" x2="209.50" y2="674.00" stroke="#060606" stroke-width="1.25"/>
<text x="182.10" y="670.35" font-size="7.8" text-anchor="middle">n.s.</text>
<line x1="156.20" y1="692.80" x2="180.10" y2="692.80" stroke="#060606" stroke-width="1.25"/>
<path d="M165.10,686.25L165.10,688.95M163.93,686.93L166.27,688.27M166.27,686.93L163.93,688.27" stroke="#060606" stroke-width="0.85" fill="none"/>
<circle cx="165.10" cy="687.60" r="0.75" fill="#060606"/>
<path d="M168.50,686.25L168.50,688.95M167.33,686.93L169.67,688.27M169.67,686.93L167.33,688.27" stroke="#060606" stroke-width="0.85" fill="none"/>
<circle cx="168.50" cy="687.60" r="0.75" fill="#060606"/>
<path d="M171.90,686.25L171.90,688.95M170.73,686.93L173.07,688.27M173.07,686.93L170.73,688.27" stroke="#060606" stroke-width="0.85" fill="none"/>
<circle cx="171.90" cy="687.60" r="0.75" fill="#060606"/>
<line x1="131.00" y1="700.90" x2="155.30" y2="700.90" stroke="#060606" stroke-width="1.25"/>
<path d="M143.50,693.45L143.50,696.15M142.33,694.12L144.67,695.47M144.67,694.12L142.33,695.47" stroke="#060606" stroke-width="0.85" fill="none"/>
<circle cx="143.50" cy="694.80" r="0.75" fill="#060606"/>
<line x1="183.50" y1="702.30" x2="207.50" y2="702.30" stroke="#060606" stroke-width="1.25"/>
<path d="M192.30,695.75L192.30,698.45M191.13,696.43L193.47,697.77M193.47,696.43L191.13,697.77" stroke="#060606" stroke-width="0.85" fill="none"/>
<circle cx="192.30" cy="697.10" r="0.75" fill="#060606"/>
<path d="M195.70,695.75L195.70,698.45M194.53,696.43L196.87,697.77M196.87,696.43L194.53,697.77" stroke="#060606" stroke-width="0.85" fill="none"/>
<circle cx="195.70" cy="697.10" r="0.75" fill="#060606"/>
<path d="M199.10,695.75L199.10,698.45M197.93,696.43L200.27,697.77M200.27,696.43L197.93,697.77" stroke="#060606" stroke-width="0.85" fill="none"/>
<circle cx="199.10" cy="697.10" r="0.75" fill="#060606"/>
<line x1="206.60" y1="692.00" x2="230.60" y2="692.00" stroke="#060606" stroke-width="1.25"/>
<text x="218.70" y="688.45" font-size="7.8" text-anchor="middle">n.s.</text>
<text x="77.60" y="827.10" font-size="7.8" text-anchor="middle" textLength="16.20" lengthAdjust="spacingAndGlyphs">PBS</text>
<text x="103.60" y="827.10" font-size="7.8" text-anchor="middle" textLength="23.70" lengthAdjust="spacingAndGlyphs">EM-Fc</text>
<line x1="127.90" y1="817.20" x2="233.50" y2="817.20" stroke="#060606" stroke-width="1.25"/>
<text x="181.00" y="827.10" font-size="7.8" text-anchor="middle" textLength="46.80" lengthAdjust="spacingAndGlyphs">mICAM-1-Fc</text>
<text x="14.30" y="839.00" font-size="7.8" textLength="24.50" lengthAdjust="spacingAndGlyphs">CXCL1</text>
<line x1="75.60" y1="836.20" x2="79.40" y2="836.20" stroke="#222" stroke-width="0.9"/>
<line x1="101.40" y1="836.20" x2="105.20" y2="836.20" stroke="#222" stroke-width="0.9"/>
<line x1="127.10" y1="836.20" x2="130.90" y2="836.20" stroke="#222" stroke-width="0.9"/>
<line x1="153.20" y1="836.20" x2="156.60" y2="836.20" stroke="#222" stroke-width="0.9"/>
<line x1="154.90" y1="834.50" x2="154.90" y2="837.90" stroke="#222" stroke-width="0.9"/>
<line x1="179.10" y1="836.20" x2="182.50" y2="836.20" stroke="#222" stroke-width="0.9"/>
<line x1="180.80" y1="834.50" x2="180.80" y2="837.90" stroke="#222" stroke-width="0.9"/>
<line x1="204.80" y1="836.20" x2="208.20" y2="836.20" stroke="#222" stroke-width="0.9"/>
<line x1="206.50" y1="834.50" x2="206.50" y2="837.90" stroke="#222" stroke-width="0.9"/>
<line x1="230.70" y1="836.20" x2="234.10" y2="836.20" stroke="#222" stroke-width="0.9"/>
<line x1="232.40" y1="834.50" x2="232.40" y2="837.90" stroke="#222" stroke-width="0.9"/>
<text x="14.30" y="850.70" font-size="7.8" textLength="26.50" lengthAdjust="spacingAndGlyphs">TGF-β1</text>
<line x1="75.60" y1="847.90" x2="79.40" y2="847.90" stroke="#222" stroke-width="0.9"/>
<line x1="101.40" y1="847.90" x2="105.20" y2="847.90" stroke="#222" stroke-width="0.9"/>
<line x1="127.10" y1="847.90" x2="130.90" y2="847.90" stroke="#222" stroke-width="0.9"/>
<line x1="153.00" y1="847.90" x2="156.80" y2="847.90" stroke="#222" stroke-width="0.9"/>
<line x1="179.10" y1="847.90" x2="182.50" y2="847.90" stroke="#222" stroke-width="0.9"/>
<line x1="180.80" y1="846.20" x2="180.80" y2="849.60" stroke="#222" stroke-width="0.9"/>
<line x1="204.80" y1="847.90" x2="208.20" y2="847.90" stroke="#222" stroke-width="0.9"/>
<line x1="206.50" y1="846.20" x2="206.50" y2="849.60" stroke="#222" stroke-width="0.9"/>
<line x1="230.50" y1="847.90" x2="234.30" y2="847.90" stroke="#222" stroke-width="0.9"/>
<text x="14.30" y="861.80" font-size="7.8" textLength="41.20" lengthAdjust="spacingAndGlyphs">GW-788388</text>
<line x1="75.60" y1="859.00" x2="79.40" y2="859.00" stroke="#222" stroke-width="0.9"/>
<line x1="101.40" y1="859.00" x2="105.20" y2="859.00" stroke="#222" stroke-width="0.9"/>
<line x1="127.10" y1="859.00" x2="130.90" y2="859.00" stroke="#222" stroke-width="0.9"/>
<line x1="153.00" y1="859.00" x2="156.80" y2="859.00" stroke="#222" stroke-width="0.9"/>
<line x1="178.90" y1="859.00" x2="182.70" y2="859.00" stroke="#222" stroke-width="0.9"/>
<line x1="204.80" y1="859.00" x2="208.20" y2="859.00" stroke="#222" stroke-width="0.9"/>
<line x1="206.50" y1="857.30" x2="206.50" y2="860.70" stroke="#222" stroke-width="0.9"/>
<line x1="230.70" y1="859.00" x2="234.10" y2="859.00" stroke="#222" stroke-width="0.9"/>
<line x1="232.40" y1="857.30" x2="232.40" y2="860.70" stroke="#222" stroke-width="0.9"/>
<text x="268.60" y="658.10" font-size="11.5" font-weight="bold">H</text>
<line x1="314.25" y1="676.30" x2="314.25" y2="811.35" stroke="#060606" stroke-width="1.15"/>
<line x1="310.85" y1="810.80" x2="314.25" y2="810.80" stroke="#060606" stroke-width="1.0"/>
<text x="307.85" y="813.45" font-size="8.0" text-anchor="end">0</text>
<line x1="310.85" y1="788.92" x2="314.25" y2="788.92" stroke="#060606" stroke-width="1.0"/>
<text x="307.85" y="791.57" font-size="8.0" text-anchor="end">20</text>
<line x1="310.85" y1="767.03" x2="314.25" y2="767.03" stroke="#060606" stroke-width="1.0"/>
<text x="307.85" y="769.68" font-size="8.0" text-anchor="end">40</text>
<line x1="310.85" y1="745.15" x2="314.25" y2="745.15" stroke="#060606" stroke-width="1.0"/>
<text x="307.85" y="747.80" font-size="8.0" text-anchor="end">60</text>
<line x1="310.85" y1="723.27" x2="314.25" y2="723.27" stroke="#060606" stroke-width="1.0"/>
<text x="307.85" y="725.92" font-size="8.0" text-anchor="end">80</text>
<line x1="310.85" y1="701.38" x2="314.25" y2="701.38" stroke="#060606" stroke-width="1.0"/>
<text x="307.85" y="704.03" font-size="8.0" text-anchor="end">100</text>
<line x1="310.85" y1="679.50" x2="314.25" y2="679.50" stroke="#060606" stroke-width="1.0"/>
<text x="307.85" y="682.15" font-size="8.0" text-anchor="end">120</text>
<line x1="313.70" y1="810.80" x2="510.80" y2="810.80" stroke="#060606" stroke-width="1.15"/>
<text transform="translate(289.05,743.50) rotate(-90)" font-size="10" text-anchor="middle" textLength="78.70" lengthAdjust="spacingAndGlyphs">THP-1 adhesion [%]</text>
<line x1="336.30" y1="804.89" x2="336.30" y2="807.14" stroke="#060606" stroke-width="1.3"/>
<line x1="333.80" y1="804.89" x2="338.80" y2="804.89" stroke="#060606" stroke-width="1.3"/>
<rect x="328.40" y="806.64" width="15.80" height="4.46" fill="#060606"/>
<line x1="362.30" y1="803.36" x2="362.30" y2="806.60" stroke="#060606" stroke-width="1.3"/>
<line x1="359.80" y1="803.36" x2="364.80" y2="803.36" stroke="#060606" stroke-width="1.3"/>
<rect x="354.40" y="806.10" width="15.80" height="5.00" fill="#060606"/>
<line x1="388.90" y1="755.00" x2="388.90" y2="764.91" stroke="#060606" stroke-width="1.3"/>
<line x1="386.40" y1="755.00" x2="391.40" y2="755.00" stroke="#060606" stroke-width="1.3"/>
<rect x="381.00" y="764.41" width="15.80" height="46.69" fill="#060606"/>
<line x1="388.90" y1="810.80" x2="388.90" y2="813.60" stroke="#060606" stroke-width="1.0"/>
<rect x="406.80" y="701.38" width="15.80" height="109.72" fill="#060606"/>
<line x1="414.70" y1="810.80" x2="414.70" y2="813.60" stroke="#060606" stroke-width="1.0"/>
<line x1="440.80" y1="769.66" x2="440.80" y2="774.43" stroke="#060606" stroke-width="1.3"/>
<line x1="438.30" y1="769.66" x2="443.30" y2="769.66" stroke="#060606" stroke-width="1.3"/>
<rect x="432.90" y="773.93" width="15.80" height="37.17" fill="#060606"/>
<line x1="440.80" y1="810.80" x2="440.80" y2="813.60" stroke="#060606" stroke-width="1.0"/>
<line x1="467.30" y1="704.99" x2="467.30" y2="709.00" stroke="#060606" stroke-width="1.3"/>
<line x1="464.80" y1="704.99" x2="469.80" y2="704.99" stroke="#060606" stroke-width="1.3"/>
<rect x="459.40" y="708.50" width="15.80" height="102.60" fill="#060606"/>
<line x1="467.30" y1="810.80" x2="467.30" y2="813.60" stroke="#060606" stroke-width="1.0"/>
<line x1="493.30" y1="699.85" x2="493.30" y2="706.37" stroke="#060606" stroke-width="1.3"/>
<line x1="490.80" y1="699.85" x2="495.80" y2="699.85" stroke="#060606" stroke-width="1.3"/>
<rect x="485.40" y="705.87" width="15.80" height="105.23" fill="#060606"/>
<line x1="493.30" y1="810.80" x2="493.30" y2="813.60" stroke="#060606" stroke-width="1.0"/>
<line x1="414.70" y1="662.50" x2="468.10" y2="662.50" stroke="#060606" stroke-width="1.25"/>
<text x="440.70" y="659.05" font-size="7.8" text-anchor="middle">n.s.</text>
<line x1="445.00" y1="676.00" x2="465.80" y2="676.00" stroke="#060606" stroke-width="1.25"/>
<path d="M451.70,668.95L451.70,671.65M450.53,669.62L452.87,670.97M452.87,669.62L450.53,670.97" stroke="#060606" stroke-width="0.85" fill="none"/>
<circle cx="451.70" cy="670.30" r="0.75" fill="#060606"/>
<path d="M455.10,668.95L455.10,671.65M453.93,669.62L456.27,670.97M456.27,669.62L453.93,670.97" stroke="#060606" stroke-width="0.85" fill="none"/>
<circle cx="455.10" cy="670.30" r="0.75" fill="#060606"/>
<path d="M458.50,668.95L458.50,671.65M457.33,669.62L459.67,670.97M459.67,669.62L457.33,670.97" stroke="#060606" stroke-width="0.85" fill="none"/>
<circle cx="458.50" cy="670.30" r="0.75" fill="#060606"/>
<line x1="387.30" y1="692.20" x2="412.70" y2="692.20" stroke="#060606" stroke-width="1.25"/>
<path d="M396.30,684.75L396.30,687.45M395.13,685.43L397.47,686.77M397.47,685.43L395.13,686.77" stroke="#060606" stroke-width="0.85" fill="none"/>
<circle cx="396.30" cy="686.10" r="0.75" fill="#060606"/>
<path d="M399.70,684.75L399.70,687.45M398.53,685.43L400.87,686.77M400.87,685.43L398.53,686.77" stroke="#060606" stroke-width="0.85" fill="none"/>
<circle cx="399.70" cy="686.10" r="0.75" fill="#060606"/>
<path d="M403.10,684.75L403.10,687.45M401.93,685.43L404.27,686.77M404.27,685.43L401.93,686.77" stroke="#060606" stroke-width="0.85" fill="none"/>
<circle cx="403.10" cy="686.10" r="0.75" fill="#060606"/>
<line x1="417.60" y1="692.20" x2="441.50" y2="692.20" stroke="#060606" stroke-width="1.25"/>
<path d="M426.30,684.75L426.30,687.45M425.13,685.43L427.47,686.77M427.47,685.43L425.13,686.77" stroke="#060606" stroke-width="0.85" fill="none"/>
<circle cx="426.30" cy="686.10" r="0.75" fill="#060606"/>
<path d="M429.70,684.75L429.70,687.45M428.53,685.43L430.87,686.77M430.87,685.43L428.53,686.77" stroke="#060606" stroke-width="0.85" fill="none"/>
<circle cx="429.70" cy="686.10" r="0.75" fill="#060606"/>
<path d="M433.10,684.75L433.10,687.45M431.93,685.43L434.27,686.77M434.27,685.43L431.93,686.77" stroke="#060606" stroke-width="0.85" fill="none"/>
<circle cx="433.10" cy="686.10" r="0.75" fill="#060606"/>
<line x1="466.60" y1="694.20" x2="491.10" y2="694.20" stroke="#060606" stroke-width="1.25"/>
<text x="479.00" y="691.35" font-size="7.8" text-anchor="middle">n.s.</text>
<text x="336.30" y="827.00" font-size="7.8" text-anchor="middle" textLength="16.00" lengthAdjust="spacingAndGlyphs">PBS</text>
<text x="362.50" y="827.00" font-size="7.8" text-anchor="middle" textLength="22.50" lengthAdjust="spacingAndGlyphs">hIgG1</text>
<line x1="390.20" y1="817.20" x2="494.00" y2="817.20" stroke="#060606" stroke-width="1.25"/>
<text x="441.80" y="827.00" font-size="7.8" text-anchor="middle" textLength="46.70" lengthAdjust="spacingAndGlyphs">hVCAM-1-Fc</text>
<text x="273.80" y="839.00" font-size="7.8" textLength="19.30" lengthAdjust="spacingAndGlyphs">CCL2</text>
<line x1="334.40" y1="836.20" x2="338.20" y2="836.20" stroke="#222" stroke-width="0.9"/>
<line x1="360.40" y1="836.20" x2="364.20" y2="836.20" stroke="#222" stroke-width="0.9"/>
<line x1="387.00" y1="836.20" x2="390.80" y2="836.20" stroke="#222" stroke-width="0.9"/>
<line x1="413.00" y1="836.20" x2="416.40" y2="836.20" stroke="#222" stroke-width="0.9"/>
<line x1="414.70" y1="834.50" x2="414.70" y2="837.90" stroke="#222" stroke-width="0.9"/>
<line x1="439.10" y1="836.20" x2="442.50" y2="836.20" stroke="#222" stroke-width="0.9"/>
<line x1="440.80" y1="834.50" x2="440.80" y2="837.90" stroke="#222" stroke-width="0.9"/>
<line x1="465.60" y1="836.20" x2="469.00" y2="836.20" stroke="#222" stroke-width="0.9"/>
<line x1="467.30" y1="834.50" x2="467.30" y2="837.90" stroke="#222" stroke-width="0.9"/>
<line x1="491.60" y1="836.20" x2="495.00" y2="836.20" stroke="#222" stroke-width="0.9"/>
<line x1="493.30" y1="834.50" x2="493.30" y2="837.90" stroke="#222" stroke-width="0.9"/>
<text x="273.80" y="850.20" font-size="7.8" textLength="26.50" lengthAdjust="spacingAndGlyphs">TGF-β1</text>
<line x1="334.40" y1="847.40" x2="338.20" y2="847.40" stroke="#222" stroke-width="0.9"/>
<line x1="360.40" y1="847.40" x2="364.20" y2="847.40" stroke="#222" stroke-width="0.9"/>
<line x1="387.00" y1="847.40" x2="390.80" y2="847.40" stroke="#222" stroke-width="0.9"/>
<line x1="412.80" y1="847.40" x2="416.60" y2="847.40" stroke="#222" stroke-width="0.9"/>
<line x1="439.10" y1="847.40" x2="442.50" y2="847.40" stroke="#222" stroke-width="0.9"/>
<line x1="440.80" y1="845.70" x2="440.80" y2="849.10" stroke="#222" stroke-width="0.9"/>
<line x1="465.60" y1="847.40" x2="469.00" y2="847.40" stroke="#222" stroke-width="0.9"/>
<line x1="467.30" y1="845.70" x2="467.30" y2="849.10" stroke="#222" stroke-width="0.9"/>
<line x1="491.40" y1="847.40" x2="495.20" y2="847.40" stroke="#222" stroke-width="0.9"/>
<text x="273.80" y="862.00" font-size="7.8" textLength="40.00" lengthAdjust="spacingAndGlyphs">TGFβRII ab</text>
<line x1="334.40" y1="859.20" x2="338.20" y2="859.20" stroke="#222" stroke-width="0.9"/>
<line x1="360.40" y1="859.20" x2="364.20" y2="859.20" stroke="#222" stroke-width="0.9"/>
<line x1="387.00" y1="859.20" x2="390.80" y2="859.20" stroke="#222" stroke-width="0.9"/>
<line x1="412.80" y1="859.20" x2="416.60" y2="859.20" stroke="#222" stroke-width="0.9"/>
<line x1="438.90" y1="859.20" x2="442.70" y2="859.20" stroke="#222" stroke-width="0.9"/>
<line x1="465.60" y1="859.20" x2="469.00" y2="859.20" stroke="#222" stroke-width="0.9"/>
<line x1="467.30" y1="857.50" x2="467.30" y2="860.90" stroke="#222" stroke-width="0.9"/>
<line x1="491.60" y1="859.20" x2="495.00" y2="859.20" stroke="#222" stroke-width="0.9"/>
<line x1="493.30" y1="857.50" x2="493.30" y2="860.90" stroke="#222" stroke-width="0.9"/>
<text x="137.20" y="889.30" font-size="11.5" font-weight="bold">I</text>
<line x1="178.50" y1="919.40" x2="178.50" y2="1049.75" stroke="#060606" stroke-width="1.15"/>
<line x1="175.10" y1="1049.20" x2="178.50" y2="1049.20" stroke="#060606" stroke-width="1.0"/>
<text x="172.10" y="1051.85" font-size="8.0" text-anchor="end">0</text>
<line x1="175.10" y1="1028.10" x2="178.50" y2="1028.10" stroke="#060606" stroke-width="1.0"/>
<text x="172.10" y="1030.75" font-size="8.0" text-anchor="end">20</text>
<line x1="175.10" y1="1007.00" x2="178.50" y2="1007.00" stroke="#060606" stroke-width="1.0"/>
<text x="172.10" y="1009.65" font-size="8.0" text-anchor="end">40</text>
<line x1="175.10" y1="985.90" x2="178.50" y2="985.90" stroke="#060606" stroke-width="1.0"/>
<text x="172.10" y="988.55" font-size="8.0" text-anchor="end">60</text>
<line x1="175.10" y1="964.80" x2="178.50" y2="964.80" stroke="#060606" stroke-width="1.0"/>
<text x="172.10" y="967.45" font-size="8.0" text-anchor="end">80</text>
<line x1="175.10" y1="943.70" x2="178.50" y2="943.70" stroke="#060606" stroke-width="1.0"/>
<text x="172.10" y="946.35" font-size="8.0" text-anchor="end">100</text>
<line x1="175.10" y1="922.60" x2="178.50" y2="922.60" stroke="#060606" stroke-width="1.0"/>
<text x="172.10" y="925.25" font-size="8.0" text-anchor="end">120</text>
<line x1="177.95" y1="1049.20" x2="381.60" y2="1049.20" stroke="#060606" stroke-width="1.15"/>
<text transform="translate(153.00,984.40) rotate(-90)" font-size="10" text-anchor="middle" textLength="78.60" lengthAdjust="spacingAndGlyphs">THP-1 adhesion [%]</text>
<line x1="200.30" y1="1042.87" x2="200.30" y2="1045.59" stroke="#060606" stroke-width="1.3"/>
<line x1="197.80" y1="1042.87" x2="202.80" y2="1042.87" stroke="#060606" stroke-width="1.3"/>
<rect x="192.45" y="1045.09" width="15.70" height="4.41" fill="#060606"/>
<line x1="226.50" y1="1041.60" x2="226.50" y2="1045.16" stroke="#060606" stroke-width="1.3"/>
<line x1="224.00" y1="1041.60" x2="229.00" y2="1041.60" stroke="#060606" stroke-width="1.3"/>
<rect x="218.65" y="1044.66" width="15.70" height="4.84" fill="#060606"/>
<line x1="253.00" y1="991.39" x2="253.00" y2="1002.86" stroke="#060606" stroke-width="1.3"/>
<line x1="250.50" y1="991.39" x2="255.50" y2="991.39" stroke="#060606" stroke-width="1.3"/>
<rect x="245.15" y="1002.36" width="15.70" height="47.14" fill="#060606"/>
<line x1="253.00" y1="1049.20" x2="253.00" y2="1052.00" stroke="#060606" stroke-width="1.0"/>
<rect x="271.15" y="943.70" width="15.70" height="105.80" fill="#060606"/>
<line x1="279.00" y1="1049.20" x2="279.00" y2="1052.00" stroke="#060606" stroke-width="1.0"/>
<line x1="305.20" y1="1013.86" x2="305.20" y2="1017.31" stroke="#060606" stroke-width="1.3"/>
<line x1="302.70" y1="1013.86" x2="307.70" y2="1013.86" stroke="#060606" stroke-width="1.3"/>
<rect x="297.35" y="1016.81" width="15.70" height="32.69" fill="#060606"/>
<line x1="305.20" y1="1049.20" x2="305.20" y2="1052.00" stroke="#060606" stroke-width="1.0"/>
<line x1="331.30" y1="942.64" x2="331.30" y2="947.79" stroke="#060606" stroke-width="1.3"/>
<line x1="328.80" y1="942.64" x2="333.80" y2="942.64" stroke="#060606" stroke-width="1.3"/>
<rect x="323.45" y="947.29" width="15.70" height="102.21" fill="#060606"/>
<line x1="331.30" y1="1049.20" x2="331.30" y2="1052.00" stroke="#060606" stroke-width="1.0"/>
<line x1="357.40" y1="961.11" x2="357.40" y2="962.77" stroke="#060606" stroke-width="1.3"/>
<line x1="354.90" y1="961.11" x2="359.90" y2="961.11" stroke="#060606" stroke-width="1.3"/>
<rect x="349.55" y="962.27" width="15.70" height="87.23" fill="#060606"/>
<line x1="357.40" y1="1049.20" x2="357.40" y2="1052.00" stroke="#060606" stroke-width="1.0"/>
<line x1="280.50" y1="904.90" x2="332.40" y2="904.90" stroke="#060606" stroke-width="1.25"/>
<text x="305.90" y="902.05" font-size="7.8" text-anchor="middle">n.s.</text>
<line x1="307.90" y1="919.90" x2="331.00" y2="919.90" stroke="#060606" stroke-width="1.25"/>
<path d="M316.00,913.35L316.00,916.05M314.83,914.03L317.17,915.38M317.17,914.03L314.83,915.38" stroke="#060606" stroke-width="0.85" fill="none"/>
<circle cx="316.00" cy="914.70" r="0.75" fill="#060606"/>
<path d="M319.40,913.35L319.40,916.05M318.23,914.03L320.57,915.38M320.57,914.03L318.23,915.38" stroke="#060606" stroke-width="0.85" fill="none"/>
<circle cx="319.40" cy="914.70" r="0.75" fill="#060606"/>
<path d="M322.80,913.35L322.80,916.05M321.63,914.03L323.97,915.38M323.97,914.03L321.63,915.38" stroke="#060606" stroke-width="0.85" fill="none"/>
<circle cx="322.80" cy="914.70" r="0.75" fill="#060606"/>
<line x1="253.70" y1="934.60" x2="276.70" y2="934.60" stroke="#060606" stroke-width="1.25"/>
<path d="M261.80,927.75L261.80,930.45M260.63,928.43L262.97,929.77M262.97,928.43L260.63,929.77" stroke="#060606" stroke-width="0.85" fill="none"/>
<circle cx="261.80" cy="929.10" r="0.75" fill="#060606"/>
<path d="M265.20,927.75L265.20,930.45M264.03,928.43L266.37,929.77M266.37,928.43L264.03,929.77" stroke="#060606" stroke-width="0.85" fill="none"/>
<circle cx="265.20" cy="929.10" r="0.75" fill="#060606"/>
<path d="M268.60,927.75L268.60,930.45M267.43,928.43L269.77,929.77M269.77,928.43L267.43,929.77" stroke="#060606" stroke-width="0.85" fill="none"/>
<circle cx="268.60" cy="929.10" r="0.75" fill="#060606"/>
<line x1="282.50" y1="934.60" x2="307.30" y2="934.60" stroke="#060606" stroke-width="1.25"/>
<path d="M291.50,927.75L291.50,930.45M290.33,928.43L292.67,929.77M292.67,928.43L290.33,929.77" stroke="#060606" stroke-width="0.85" fill="none"/>
<circle cx="291.50" cy="929.10" r="0.75" fill="#060606"/>
<path d="M294.90,927.75L294.90,930.45M293.73,928.43L296.07,929.77M296.07,928.43L293.73,929.77" stroke="#060606" stroke-width="0.85" fill="none"/>
<circle cx="294.90" cy="929.10" r="0.75" fill="#060606"/>
<path d="M298.30,927.75L298.30,930.45M297.13,928.43L299.47,929.77M299.47,928.43L297.13,929.77" stroke="#060606" stroke-width="0.85" fill="none"/>
<circle cx="298.30" cy="929.10" r="0.75" fill="#060606"/>
<line x1="331.50" y1="938.10" x2="354.00" y2="938.10" stroke="#060606" stroke-width="1.25"/>
<text x="342.50" y="935.25" font-size="7.8" text-anchor="middle">n.s.</text>
<text x="200.60" y="1065.70" font-size="7.8" text-anchor="middle" textLength="16.20" lengthAdjust="spacingAndGlyphs">PBS</text>
<text x="226.50" y="1065.70" font-size="7.8" text-anchor="middle" textLength="22.00" lengthAdjust="spacingAndGlyphs">hIgG1</text>
<line x1="256.00" y1="1055.80" x2="357.80" y2="1055.80" stroke="#060606" stroke-width="1.25"/>
<text x="307.20" y="1065.70" font-size="7.8" text-anchor="middle" textLength="47.60" lengthAdjust="spacingAndGlyphs">hVCAM-1-Fc</text>
<text x="140.50" y="1077.70" font-size="7.8" textLength="19.50" lengthAdjust="spacingAndGlyphs">CCL2</text>
<line x1="198.40" y1="1074.90" x2="202.20" y2="1074.90" stroke="#222" stroke-width="0.9"/>
<line x1="224.60" y1="1074.90" x2="228.40" y2="1074.90" stroke="#222" stroke-width="0.9"/>
<line x1="251.10" y1="1074.90" x2="254.90" y2="1074.90" stroke="#222" stroke-width="0.9"/>
<line x1="277.30" y1="1074.90" x2="280.70" y2="1074.90" stroke="#222" stroke-width="0.9"/>
<line x1="279.00" y1="1073.20" x2="279.00" y2="1076.60" stroke="#222" stroke-width="0.9"/>
<line x1="303.50" y1="1074.90" x2="306.90" y2="1074.90" stroke="#222" stroke-width="0.9"/>
<line x1="305.20" y1="1073.20" x2="305.20" y2="1076.60" stroke="#222" stroke-width="0.9"/>
<line x1="329.60" y1="1074.90" x2="333.00" y2="1074.90" stroke="#222" stroke-width="0.9"/>
<line x1="331.30" y1="1073.20" x2="331.30" y2="1076.60" stroke="#222" stroke-width="0.9"/>
<line x1="355.70" y1="1074.90" x2="359.10" y2="1074.90" stroke="#222" stroke-width="0.9"/>
<line x1="357.40" y1="1073.20" x2="357.40" y2="1076.60" stroke="#222" stroke-width="0.9"/>
<text x="140.50" y="1089.00" font-size="7.8" textLength="26.50" lengthAdjust="spacingAndGlyphs">TGF-β1</text>
<line x1="198.40" y1="1086.20" x2="202.20" y2="1086.20" stroke="#222" stroke-width="0.9"/>
<line x1="224.60" y1="1086.20" x2="228.40" y2="1086.20" stroke="#222" stroke-width="0.9"/>
<line x1="251.10" y1="1086.20" x2="254.90" y2="1086.20" stroke="#222" stroke-width="0.9"/>
<line x1="277.10" y1="1086.20" x2="280.90" y2="1086.20" stroke="#222" stroke-width="0.9"/>
<line x1="303.50" y1="1086.20" x2="306.90" y2="1086.20" stroke="#222" stroke-width="0.9"/>
<line x1="305.20" y1="1084.50" x2="305.20" y2="1087.90" stroke="#222" stroke-width="0.9"/>
<line x1="329.60" y1="1086.20" x2="333.00" y2="1086.20" stroke="#222" stroke-width="0.9"/>
<line x1="331.30" y1="1084.50" x2="331.30" y2="1087.90" stroke="#222" stroke-width="0.9"/>
<line x1="355.50" y1="1086.20" x2="359.30" y2="1086.20" stroke="#222" stroke-width="0.9"/>
<text x="140.50" y="1100.70" font-size="7.8" textLength="41.50" lengthAdjust="spacingAndGlyphs">GW-788388</text>
<line x1="198.40" y1="1097.90" x2="202.20" y2="1097.90" stroke="#222" stroke-width="0.9"/>
<line x1="224.60" y1="1097.90" x2="228.40" y2="1097.90" stroke="#222" stroke-width="0.9"/>
<line x1="251.10" y1="1097.90" x2="254.90" y2="1097.90" stroke="#222" stroke-width="0.9"/>
<line x1="277.10" y1="1097.90" x2="280.90" y2="1097.90" stroke="#222" stroke-width="0.9"/>
<line x1="303.30" y1="1097.90" x2="307.10" y2="1097.90" stroke="#222" stroke-width="0.9"/>
<line x1="329.60" y1="1097.90" x2="333.00" y2="1097.90" stroke="#222" stroke-width="0.9"/>
<line x1="331.30" y1="1096.20" x2="331.30" y2="1099.60" stroke="#222" stroke-width="0.9"/>
<line x1="355.70" y1="1097.90" x2="359.10" y2="1097.90" stroke="#222" stroke-width="0.9"/>
<line x1="357.40" y1="1096.20" x2="357.40" y2="1099.60" stroke="#222" stroke-width="0.9"/>
<text x="140.50" y="1112.00" font-size="7.8" textLength="40.00" lengthAdjust="spacingAndGlyphs">TGFβRII ab</text>
<line x1="198.40" y1="1109.20" x2="202.20" y2="1109.20" stroke="#222" stroke-width="0.9"/>
<line x1="224.60" y1="1109.20" x2="228.40" y2="1109.20" stroke="#222" stroke-width="0.9"/>
<line x1="251.10" y1="1109.20" x2="254.90" y2="1109.20" stroke="#222" stroke-width="0.9"/>
<line x1="277.10" y1="1109.20" x2="280.90" y2="1109.20" stroke="#222" stroke-width="0.9"/>
<line x1="303.30" y1="1109.20" x2="307.10" y2="1109.20" stroke="#222" stroke-width="0.9"/>
<line x1="329.60" y1="1109.20" x2="333.00" y2="1109.20" stroke="#222" stroke-width="0.9"/>
<line x1="331.30" y1="1107.50" x2="331.30" y2="1110.90" stroke="#222" stroke-width="0.9"/>
<line x1="355.70" y1="1109.20" x2="359.10" y2="1109.20" stroke="#222" stroke-width="0.9"/>
<line x1="357.40" y1="1107.50" x2="357.40" y2="1110.90" stroke="#222" stroke-width="0.9"/>
<rect x="0.5" y="0.5" width="519" height="1120" fill="none" stroke="#1c1c1c" stroke-width="1.2"/>
</svg></body></html>
